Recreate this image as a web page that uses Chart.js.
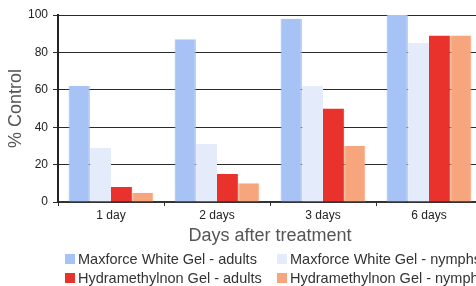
<!DOCTYPE html>
<html>
<head>
<meta charset="utf-8">
<script src="https://cdn.jsdelivr.net/npm/chart.js@4"></script>
<style>
  html, body { margin: 0; padding: 0; background: #fff; overflow: hidden; }
  #wrap { position: relative; width: 520px; height: 286px; }
  #legend {
    position: absolute; left: 65px; top: 250px;
    display: grid; grid-template-columns: 212px auto; row-gap: 1px;
    font-family: 'Liberation Sans', Arial, sans-serif; font-size: 14.5px; color: #333;
    white-space: nowrap;
  }
  #legend .item { display: flex; align-items: center; height: 18px; }
  #legend .box { width: 10px; height: 10px; margin-right: 3px; flex: none; }
</style>
</head>
<body>
<div id="wrap">
  <canvas id="chart"></canvas>
  <div id="legend"></div>
</div>
<script>
  // datos
  const days = ['1 day', '2 days', '3 days', '6 days'];
  const maxforceAdults = [62, 87, 98, 100];
  const maxforceNymphs = [29, 31, 62, 85];
  const hydraAdults = [8, 15, 50, 89];
  const hydraNymphs = [5, 10, 30, 89];
  const yTicks = [0, 20, 40, 60, 80, 100];

  const font = "'Liberation Sans', Arial, sans-serif";

  function ds(label, data, fill, edge) {
    return {
      label, data,
      backgroundColor: fill,
      borderColor: edge,
      borderWidth: { left: 1, right: 1, top: 0, bottom: 0 },
      barPercentage: 1,
      categoryPercentage: 0.8,
    };
  }

  const chart = new Chart(document.getElementById('chart'), {
    type: 'bar',
    data: {
      labels: days,
      datasets: [
        ds('Maxforce White Gel - adults', maxforceAdults, '#a7c3f6', '#97b5ee'),
        ds('Maxforce White Gel - nymphs', maxforceNymphs, '#e4ebfb', '#e4ebfb'),
        ds('Hydramethylnon Gel - adults', hydraAdults, '#e8322b', '#e8322b'),
        ds('Hydramethylnon Gel - nymphs', hydraNymphs, '#f7a57c', '#f7a57c'),
      ],
    },
    options: {
      responsive: true, maintainAspectRatio: false,
      animation: false,
      layout: { padding: { top: 15, left: 4, right: 38, bottom: 41 } },
      plugins: {
        legend: { display: false },
        tooltip: { enabled: false },
      },
      scales: {
        x: {
          afterFit: s => { s.height = 43; },
          grid: { drawOnChartArea: false, drawTicks: true, tickLength: 4, color: '#333' },
          border: { color: '#333', width: 2 },
          ticks: { color: '#222', font: { family: font, size: 12 }, padding: 2 },
          title: {
            display: true, text: 'Days after treatment',
            color: '#555', font: { family: font, size: 18, lineHeight: 1 }, padding: { top: 0, bottom: 0 },
          },
        },
        y: {
          min: 0, max: 100,
          afterBuildTicks: s => { s.ticks = yTicks.map(v => ({ value: v })); },
          afterFit: s => { s.width = 54; },
          grid: { color: '#2a2a2a', tickLength: 5, lineWidth: 1 },
          border: { color: '#222', width: 2 },
          ticks: { color: '#222', font: { family: font, size: 12 }, padding: 5 },
          title: {
            display: true, text: '% Control',
            color: '#555', font: { family: font, size: 18, lineHeight: 1 }, padding: { top: 3, bottom: 0 },
          },
        },
      },
    },
  });

  // leyenda en dos columnas, como en el original (orden: columna por fila)
  const legendOrder = [0, 1, 2, 3];
  const legendEl = document.getElementById('legend');
  legendOrder.forEach(i => {
    const d = chart.data.datasets[i];
    const item = document.createElement('div');
    item.className = 'item';
    const box = document.createElement('span');
    box.className = 'box';
    box.style.background = d.backgroundColor;
    const txt = document.createElement('span');
    txt.textContent = d.label;
    item.appendChild(box);
    item.appendChild(txt);
    legendEl.appendChild(item);
  });
</script>
</body>
</html>
